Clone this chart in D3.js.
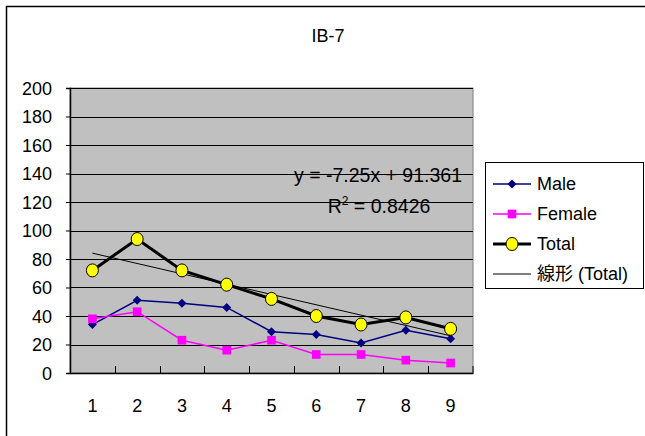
<!DOCTYPE html>
<html>
<head>
<meta charset="utf-8">
<title>IB-7</title>
<script src="https://cdnjs.cloudflare.com/ajax/libs/d3/7.8.5/d3.min.js"></script>
<style>
    body { margin: 0; background: #fff; }
    text { font-family: "Liberation Sans", Arial, sans-serif; fill: #000; }
</style>
</head>
<body>
<div id="chart"></div>
<script>
    // datos
    const categories = ["1", "2", "3", "4", "5", "6", "7", "8", "9"]
    const male = [34, 51, 49, 46, 29, 27, 21, 30, 24]
    const female = [38, 43, 23, 16, 23, 13, 13, 9, 7]
    const total = [72, 94, 72, 62, 52, 40, 34, 39, 31]
    const yTicks = [0, 20, 40, 60, 80, 100, 120, 140, 160, 180, 200]
    // recta de tendencia (Total), tal como la etiqueta del grafico
    const trendSlope = -7.25
    const trendIntercept = 91.361
    const trendR2 = "0.8426"

    const width = 645, height = 436
    const plot = { left: 70, right: 473, top: 88, bottom: 373 }

    var svg = d3.select("#chart").append("svg")
        .attr("width", width).attr("height", height)

    // marco exterior
    svg.append("rect")
        .attr("x", 6.5).attr("y", 6.5)
        .attr("width", width + 10).attr("height", height + 10)
        .attr("fill", "#fff").attr("stroke", "#000").attr("stroke-width", 1.5)

    // titulo
    svg.append("text")
        .attr("x", 328).attr("y", 42)
        .attr("text-anchor", "middle")
        .style("font-size", "18px")
        .text("IB-7")

    var x = d3.scaleBand().domain(categories).range([plot.left, plot.right])
    var y = d3.scaleLinear().domain([0, 200]).range([plot.bottom, plot.top])
    var cx = function (i) { return x(categories[i]) + x.bandwidth() / 2 }
    var xNum = d3.scaleLinear().domain([1, 9]).range([cx(0), cx(8)])

    // area de trazado
    svg.append("rect")
        .attr("x", plot.left).attr("y", plot.top)
        .attr("width", plot.right - plot.left).attr("height", plot.bottom - plot.top)
        .attr("fill", "#c0c0c0").attr("stroke", "#808080").attr("stroke-width", 1)

    // lineas de division
    svg.append("g").selectAll("line")
        .data(yTicks.filter(function (d) { return d > 0 }))
        .enter().append("line")
        .attr("x1", plot.left).attr("x2", plot.right)
        .attr("y1", function (d) { return Math.round(y(d)) + 0.5 })
        .attr("y2", function (d) { return Math.round(y(d)) + 0.5 })
        .attr("stroke", "#000").attr("stroke-width", 1)

    // eje Y
    var yAxis = svg.append("g")
        .attr("transform", "translate(" + plot.left + ",0)")
        .call(d3.axisLeft(y).tickValues(yTicks).tickSize(4).tickPadding(14))
    yAxis.select(".domain").attr("stroke", "#000").attr("stroke-width", 1.5)
    yAxis.selectAll("text").style("font-size", "18px").attr("dy", "0.36em")

    // eje X
    var xAxis = svg.append("g")
        .attr("transform", "translate(0," + plot.bottom + ")")
        .call(d3.axisBottom(x).tickSize(0).tickPadding(26))
    xAxis.select(".domain").attr("stroke", "#000").attr("stroke-width", 1.5)
    xAxis.selectAll("text").style("font-size", "18px")
    svg.append("g").selectAll("line")
        .data(categories.slice(1).concat(["end"]))
        .enter().append("line")
        .attr("x1", function (d) { return d === "end" ? plot.right : Math.round(x(d)) + 0.5 })
        .attr("x2", function (d) { return d === "end" ? plot.right : Math.round(x(d)) + 0.5 })
        .attr("y1", plot.bottom - 7).attr("y2", plot.bottom)
        .attr("stroke", "#000").attr("stroke-width", 1)

    var line = d3.line()
        .x(function (d, i) { return cx(i) })
        .y(function (d) { return y(d) })

    // rombo = cuadrado girado 45 grados
    var diamond = d3.symbol().type(d3.symbolSquare).size(40)
    var square = d3.symbol().type(d3.symbolSquare).size(75)

    // Male
    svg.append("path").datum(male)
        .attr("d", line).attr("fill", "none")
        .attr("stroke", "#000080").attr("stroke-width", 1.5)
    svg.append("g").selectAll("path").data(male).enter().append("path")
        .attr("d", diamond)
        .attr("transform", function (d, i) { return "translate(" + cx(i) + "," + y(d) + ") rotate(45)" })
        .attr("fill", "#000080")

    // Female
    svg.append("path").datum(female)
        .attr("d", line).attr("fill", "none")
        .attr("stroke", "#ff00ff").attr("stroke-width", 1.5)
    svg.append("g").selectAll("path").data(female).enter().append("path")
        .attr("d", square)
        .attr("transform", function (d, i) { return "translate(" + cx(i) + "," + y(d) + ")" })
        .attr("fill", "#ff00ff")

    // Total
    svg.append("path").datum(total)
        .attr("d", line).attr("fill", "none")
        .attr("stroke", "#000").attr("stroke-width", 3)

    // tendencia lineal
    svg.append("line")
        .attr("x1", xNum(1)).attr("y1", y(trendSlope * 1 + trendIntercept))
        .attr("x2", xNum(9)).attr("y2", y(trendSlope * 9 + trendIntercept))
        .attr("stroke", "#000").attr("stroke-width", 1)

    svg.append("g").selectAll("ellipse").data(total).enter().append("ellipse")
        .attr("cx", function (d, i) { return cx(i) })
        .attr("cy", function (d) { return y(d) })
        .attr("rx", 6).attr("ry", 6.5)
        .attr("fill", "#ffff00").attr("stroke", "#000").attr("stroke-width", 1)

    // etiqueta de la ecuacion
    svg.append("text")
        .attr("x", 378).attr("y", 182)
        .attr("text-anchor", "middle")
        .style("font-size", "19.5px")
        .attr("xml:space", "preserve")
        .text("y = -" + Math.abs(trendSlope) + "x + " + trendIntercept)
    var r2 = svg.append("text")
        .attr("x", 379).attr("y", 213)
        .attr("text-anchor", "middle")
        .style("font-size", "19.5px")
    r2.append("tspan").text("R")
    r2.append("tspan").attr("dy", -8).style("font-size", "12px").text("2")
    r2.append("tspan").attr("dy", 8).text(" = " + trendR2)

    // leyenda
    var legend = svg.append("g")
    legend.append("rect")
        .attr("x", 485.5).attr("y", 162.5).attr("width", 158).attr("height", 126)
        .attr("fill", "#fff").attr("stroke", "#000").attr("stroke-width", 1)

    var items = [
        { name: "Male", color: "#000080", w: 1.5, mark: "diamond" },
        { name: "Female", color: "#ff00ff", w: 1.5, mark: "square" },
        { name: "Total", color: "#000", w: 3, mark: "circle" },
        { name: "線形 (Total)", color: "#000", w: 1, mark: "none" }
    ]
    var row = legend.selectAll("g.item").data(items).enter().append("g")
        .attr("transform", function (d, i) { return "translate(0," + (184 + i * 30) + ")" })
    row.append("line")
        .attr("x1", 493).attr("x2", 531).attr("y1", 0).attr("y2", 0)
        .attr("stroke", function (d) { return d.color })
        .attr("stroke-width", function (d) { return d.w })
    row.filter(function (d) { return d.mark === "diamond" }).append("path")
        .attr("d", diamond).attr("transform", "translate(512,0) rotate(45)").attr("fill", "#000080")
    row.filter(function (d) { return d.mark === "square" }).append("path")
        .attr("d", square).attr("transform", "translate(512,0)").attr("fill", "#ff00ff")
    row.filter(function (d) { return d.mark === "circle" }).append("ellipse")
        .attr("cx", 512).attr("cy", 0).attr("rx", 6).attr("ry", 6.5)
        .attr("fill", "#ffff00").attr("stroke", "#000").attr("stroke-width", 1)
    row.append("text")
        .attr("x", 537).attr("y", 0).attr("dy", "0.36em")
        .style("font-size", "18px")
        .style("font-family", function (d) { return d.mark === "none" ? "'Liberation Sans', 'Noto Sans CJK JP', sans-serif" : null })
        .text(function (d) { return d.name })
</script>
</body>
</html>
